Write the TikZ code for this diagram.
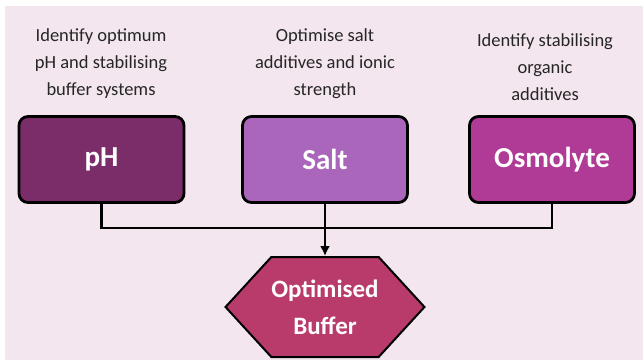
\documentclass[tikz,border=0pt]{standalone}
\usepackage{fontspec}
\setmainfont{Carlito}
\usetikzlibrary{shapes.symbols,arrows.meta}
\definecolor{bgpink}{HTML}{F3E6EF}
\definecolor{phpurple}{HTML}{7B2D6A}
\definecolor{saltlilac}{HTML}{AA66BA}
\definecolor{osmmagenta}{HTML}{B03B96}
\definecolor{bufferrose}{HTML}{B83B6B}
\begin{document}
\begin{tikzpicture}[x=1pt,y=-1pt,
        box/.style={draw,line width=2.8pt,rounded corners=9pt,minimum width=165pt,minimum height=86pt,text=white,font=\fontsize{29}{34}\selectfont\bfseries},
        note/.style={align=center,text=black!85,font=\fontsize{18.5}{27}\selectfont},
        link/.style={draw,line width=2.2pt}]
        \useasboundingbox (0,0) rectangle (643,360);
        \fill[bgpink] (5,6) rectangle (643,360);

        \node[note] (phnote) at (101,64){Identify optimum\\pH and stabilising\\buffer systems};
        \node[note] (saltnote) at (325,64){Optimise salt\\additives and ionic\\strength};
        \node[note] (osmnote) at (545,67){Identify stabilising\\organic\\additives};

        \node[box,fill=phpurple] (ph) at (101.5,159.5){pH};
        \node[box,fill=saltlilac] (salt) at (325,159.5){Salt};
        \node[box,fill=osmmagenta] (osm) at (552,159.5){Osmolyte};

        \node[draw,line width=2pt,signal,signal to=east and west,signal pointer angle=95,inner xsep=0pt,
            minimum width=190pt,minimum height=100pt,fill=bufferrose,text=white,align=center,
            font=\fontsize{25}{37}\selectfont\bfseries] (buffer) at (325,307){Optimised\\Buffer};

        \coordinate (join) at (325,228);
        \path [link] (ph.south) |- (join) -| (osm.south);
        \path [link,-{Latex[length=10pt,width=10pt]}] (salt.south) to (buffer.north);
    \end{tikzpicture}
\end{document}
